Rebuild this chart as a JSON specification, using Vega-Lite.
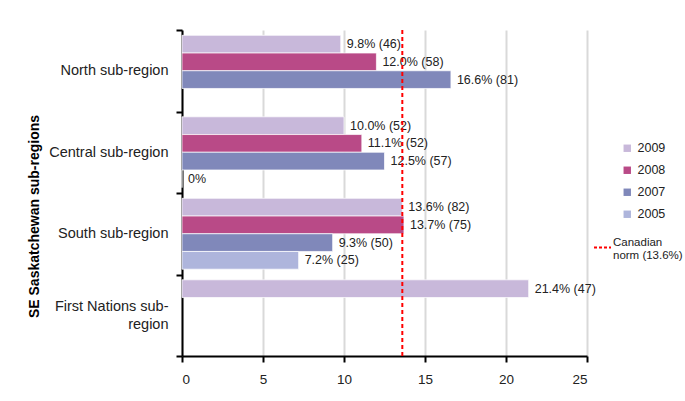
{
  "$schema": "https://vega.github.io/schema/vega-lite/v6.json",
  "width": 405,
  "height": 326,
  "autosize": {"type": "none"},
  "padding": {"left": 182, "top": 30, "right": 98, "bottom": 45},
  "background": "white",
  "config": {
    "view": {"stroke": null},
    "font": "Liberation Sans",
    "axis": {"labelFont": "Liberation Sans", "titleFont": "Liberation Sans"},
    "legend": {"labelFont": "Liberation Sans"}
  },
  "layer": [
    {
      "data": {
        "values": [
          {"region": "North sub-region", "year": "2009", "value": 9.8, "label": "9.8% (46)"},
          {"region": "North sub-region", "year": "2008", "value": 12.0, "label": "12.0% (58)"},
          {"region": "North sub-region", "year": "2007", "value": 16.6, "label": "16.6% (81)"},
          {"region": "Central sub-region", "year": "2009", "value": 10.0, "label": "10.0% (52)"},
          {"region": "Central sub-region", "year": "2008", "value": 11.1, "label": "11.1% (52)"},
          {"region": "Central sub-region", "year": "2007", "value": 12.5, "label": "12.5% (57)"},
          {"region": "Central sub-region", "year": "2005", "value": 0, "label": "0%"},
          {"region": "South sub-region", "year": "2009", "value": 13.6, "label": "13.6% (82)"},
          {"region": "South sub-region", "year": "2008", "value": 13.7, "label": "13.7% (75)"},
          {"region": "South sub-region", "year": "2007", "value": 9.3, "label": "9.3% (50)"},
          {"region": "South sub-region", "year": "2005", "value": 7.2, "label": "7.2% (25)"},
          {"region": "First Nations sub-region", "year": "2009", "value": 21.4, "label": "21.4% (47)"}
        ]
      },
      "encoding": {
        "y": {
          "field": "region",
          "type": "nominal",
          "sort": ["North sub-region", "Central sub-region", "South sub-region", "First Nations sub-region"],
          "scale": {"paddingInner": 0, "paddingOuter": 0},
          "axis": {
            "title": "SE Saskatchewan sub-regions",
            "titleFontSize": 14,
            "titleFontWeight": "bold",
            "titleColor": "black",
            "titleX": -141,
            "titleY": 186,
            "titleBaseline": "bottom",
            "labelFontSize": 14.5,
            "labelColor": "#222222",
            "labelPadding": 8,
            "labelExpr": "datum.value == 'First Nations sub-region' ? ['First Nations sub-', 'region'] : datum.value",
            "labelLineHeight": 18,
            "labelOffset": {"condition": {"test": "datum.value == 'First Nations sub-region'", "value": -9}, "value": 0},
            "domainColor": "black",
            "domainWidth": 2,
            "tickColor": "black",
            "tickWidth": 2,
            "tickSize": 6,
            "tickBand": "extent",
            "grid": false
          }
        },
        "yOffset": {
          "field": "year",
          "type": "nominal",
          "sort": ["2009", "2008", "2007", "2005"],
          "scale": {"paddingInner": 0, "paddingOuter": 0.3}
        },
        "x": {
          "field": "value",
          "type": "quantitative",
          "scale": {"domain": [0, 25], "nice": false},
          "axis": {
            "title": null,
            "values": [0, 5, 10, 15, 20, 25],
            "labelFontSize": 13.5,
            "labelColor": "#222222",
            "labelPadding": 10,
            "grid": true,
            "gridColor": "#d9d9d9",
            "gridWidth": 2,
            "domainColor": "black",
            "domainWidth": 2,
            "tickColor": "black",
            "tickWidth": 2,
            "tickSize": 6
          }
        }
      },
      "layer": [
        {
          "mark": {"type": "bar", "stroke": "white", "strokeWidth": 1, "strokeOpacity": 0.7},
          "encoding": {
            "color": {
              "field": "year",
              "type": "nominal",
              "scale": {"domain": ["2009", "2008", "2007", "2005"], "range": ["#c8b8da", "#b94a87", "#8088ba", "#aeb5dc"]},
              "legend": {
                "title": null,
                "orient": "none",
                "legendX": 439,
                "legendY": 112,
                "symbolType": "square",
                "symbolSize": 55,
                "symbolStrokeWidth": 0,
                "labelFontSize": 12.5,
                "labelColor": "#222222",
                "labelOffset": 4,
                "rowPadding": 9
              }
            }
          }
        },
        {
          "mark": {"type": "text", "align": "left", "baseline": "middle", "dx": 6, "fontSize": 12.5, "color": "#222222"},
          "encoding": {"text": {"field": "label"}}
        }
      ]
    },
    {
      "data": {"values": [{"norm": 13.6, "name": "Canadian norm (13.6%)"}]},
      "mark": {"type": "rule", "strokeDash": [4, 3], "strokeWidth": 2},
      "encoding": {
        "x": {"field": "norm", "type": "quantitative"},
        "stroke": {
          "field": "name",
          "type": "nominal",
          "scale": {"range": ["#ff0000"]},
          "legend": {
            "title": null,
            "orient": "none",
            "legendX": 411,
            "legendY": 208,
            "symbolType": "stroke",
            "symbolSize": 289,
            "symbolStrokeWidth": 2,
            "symbolDash": [3, 2],
            "labelFontSize": 11.5,
            "labelColor": "#222222",
            "labelOffset": 1,
            "labelBaseline": "bottom",
            "labelExpr": "datum.label == 'Canadian norm (13.6%)' ? ['Canadian', 'norm (13.6%)'] : datum.label"
          }
        }
      }
    }
  ]
}
